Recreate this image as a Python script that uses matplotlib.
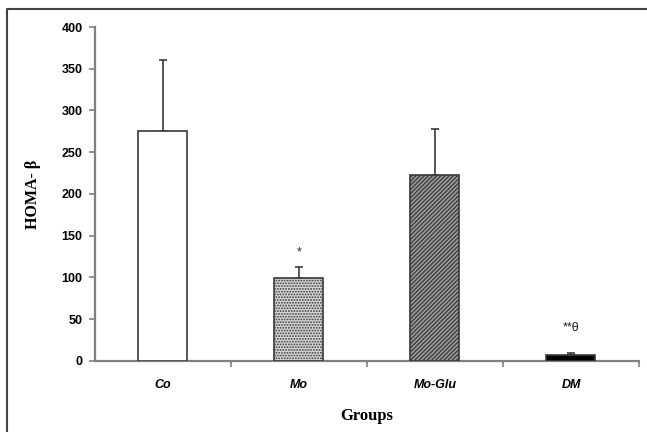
import matplotlib.pyplot as plt
import matplotlib as mpl
from matplotlib.lines import Line2D

groups = ["Co", "Mo", "Mo-Glu", "DM"]
homa_b = [275, 99, 223, 7]
sd = [85, 13, 55, 2]
marks = ["", "*", "", "**\u03b8"]
mark_y = [0, 130, 0, 40]

mpl.rcParams["hatch.linewidth"] = 0.9

fig = plt.figure(figsize=(6.47, 4.32), dpi=100)
ax = fig.add_axes([0.1468, 0.1644, 0.8408, 0.7731])

x = range(len(groups))
edge = "#3a3a3a"
bars = ax.bar(x, homa_b, width=0.36, edgecolor=edge, linewidth=1.2, zorder=3)
bars[0].set_facecolor("white")
bars[1].set_facecolor("#d6d6d6")
bars[1].set_hatch("......")
bars[2].set_facecolor("#9a9a9a")
bars[2].set_hatch("////////")
bars[3].set_facecolor("black")

ax.errorbar(x, homa_b, yerr=[[0] * 4, sd], fmt="none", ecolor=edge,
            elinewidth=1.2, capsize=3, capthick=1.2, zorder=2)

for i, (m, my) in enumerate(zip(marks, mark_y)):
    if m:
        ax.text(i, my, m, ha="center", va="center", fontsize=9,
                family="Liberation Sans", color="#222222")

ax.set_xlim(-0.5, 3.5)
ax.set_ylim(0, 400)
ax.set_yticks(range(0, 401, 50))
ax.set_xticks(list(x))
ax.set_xticklabels(groups, fontsize=9, fontweight="bold", fontstyle="italic",
                   family="Liberation Sans")
ax.set_xticks([0.5, 1.5, 2.5, 3.5], minor=True)
ax.tick_params(axis="x", which="major", length=0, pad=13)
ax.tick_params(axis="x", which="minor", length=4, width=1.2, color="#808080",
               direction="out")
ax.tick_params(axis="y", length=4, width=1.2, color="#808080", direction="out",
               pad=5)
for lab in ax.get_yticklabels():
    lab.set_fontweight("bold")
    lab.set_fontsize(9)
    lab.set_family("Liberation Sans")

for s in ["top", "right"]:
    ax.spines[s].set_visible(False)
for s in ["left", "bottom"]:
    ax.spines[s].set_color("#808080")
    ax.spines[s].set_linewidth(1.6)

ax.set_ylabel("HOMA- \u03b2", fontsize=11.5, fontweight="bold",
              family="Liberation Serif", labelpad=15)
ax.set_xlabel("Groups", fontsize=12, fontweight="bold",
              family="Liberation Serif", labelpad=12)

# outer frame (top and left edges)
fig.add_artist(Line2D([0.011, 0.011, 1.0], [0.0, 0.979, 0.979],
                      transform=fig.transFigure, color="#444444", lw=1.5))

fig.savefig("out.png", dpi=100)
